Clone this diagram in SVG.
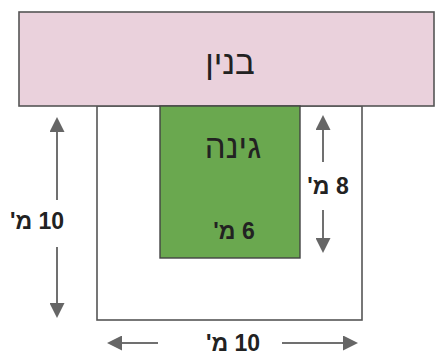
<svg xmlns="http://www.w3.org/2000/svg" width="436" height="354" viewBox="0 0 436 354">
  <style>
    .lbl { font-family: "Liberation Sans", "DejaVu Sans", sans-serif; fill: #222; text-anchor: middle; }
    .big { font-size: 33px; }
    .dim { font-size: 23px; font-weight: bold; direction: rtl; unicode-bidi: embed; }
    .arr { stroke: #707070; stroke-width: 2; fill: none; marker-end: url(#head); }
  </style>
  <defs>
    <marker id="head" viewBox="0 0 10 10" refX="0" refY="5" markerUnits="userSpaceOnUse" markerWidth="20" markerHeight="15" orient="auto">
      <path d="M0,0 L10,5 L0,10 z" fill="#666"/>
    </marker>
  </defs>
  <rect width="436" height="354" fill="#fff"/>
  <g id="yard">
    <rect x="97" y="106" width="265" height="214" fill="#fff" stroke="#555" stroke-width="1.6"/>
  </g>
  <g id="building">
    <rect x="19" y="12" width="415" height="94" fill="#ead1dc" stroke="#555" stroke-width="1.6"/>
    <text class="lbl big" x="230" y="74">בנין</text>
  </g>
  <g id="garden">
    <rect x="160" y="106" width="140" height="152" fill="#6aa84f" stroke="#444" stroke-width="1.4"/>
    <text class="lbl big" x="233" y="158">גינה</text>
    <text class="lbl dim" x="234" y="239" direction="rtl">6 מ'</text>
  </g>
  <g id="connectors">
    <path class="arr" d="M57,200 V132"/>
    <path class="arr" d="M57,247 V303"/>
    <path class="arr" d="M323,162 V130"/>
    <path class="arr" d="M323,210 V238"/>
    <path class="arr" d="M158,343 H122"/>
    <path class="arr" d="M282,343 H343"/>
  </g>
  <g id="dimensions">
    <text class="lbl dim" x="37" y="229" direction="rtl">10 מ'</text>
    <text class="lbl dim" x="328" y="194" direction="rtl">8 מ'</text>
    <text class="lbl dim" x="233" y="351" direction="rtl">10 מ'</text>
  </g>
</svg>
